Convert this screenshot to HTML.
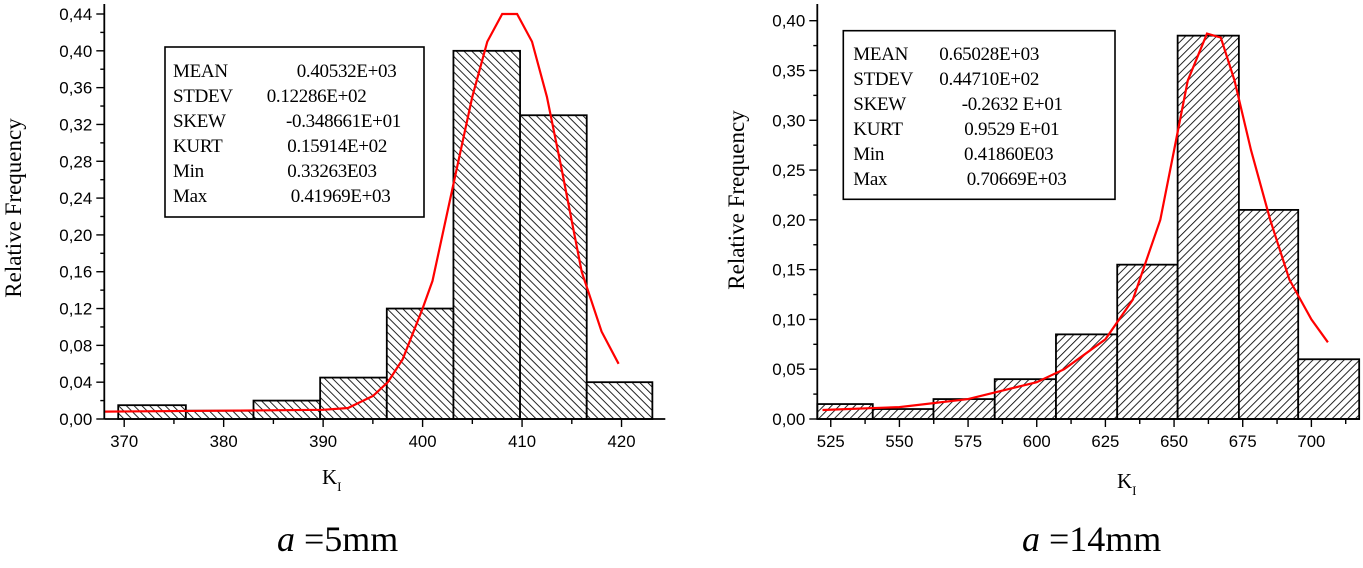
<!DOCTYPE html>
<html><head><meta charset="utf-8"><style>
body{margin:0;background:#fff;}
svg text{font-family:"Liberation Sans",sans-serif;}
.serif{font-family:"Liberation Serif",serif !important;}
</style></head><body>
<svg id="svg" width="1363" height="563" viewBox="0 0 1363 563" xmlns="http://www.w3.org/2000/svg">
<defs>
<pattern id="hatchL" patternUnits="userSpaceOnUse" width="5.5" height="5.5" patternTransform="rotate(-45)"><rect width="5.5" height="5.5" fill="#fff"/><line x1="0" y1="0" x2="0" y2="5.5" stroke="#000" stroke-width="1.7"/></pattern>
<pattern id="hatchR" patternUnits="userSpaceOnUse" width="5.5" height="5.5" patternTransform="rotate(45)"><rect width="5.5" height="5.5" fill="#fff"/><line x1="0" y1="0" x2="0" y2="5.5" stroke="#000" stroke-width="1.7"/></pattern>
</defs>
<g id="left"></g>
<g id="right"></g>
</svg>
<script>
// Left chart data (a = 5mm)
const leftBinEdges = [369.4, 376.2, 383.0, 389.7, 396.4, 403.1, 409.8, 416.5, 423.1];
const leftFreq = [0.015, 0.009, 0.02, 0.045, 0.12, 0.40, 0.33, 0.04];
const leftCurveX = [368.0, 380, 390, 392.5, 395, 396.5, 398, 400, 401, 403, 405, 406.5, 408, 409.5, 411, 412.5, 414, 416, 418, 419.7];
const leftCurveY = [0.008, 0.009, 0.010, 0.012, 0.025, 0.04, 0.065, 0.12, 0.15, 0.25, 0.35, 0.41, 0.44, 0.44, 0.41, 0.35, 0.27, 0.16, 0.095, 0.06];
const leftXTicks = [370, 380, 390, 400, 410, 420];
const leftYTicks = ["0,00","0,04","0,08","0,12","0,16","0,20","0,24","0,28","0,32","0,36","0,40","0,44"];
const leftStatsLabels = ["MEAN","STDEV","SKEW","KURT","Min","Max"];
const leftStatsValues = ["0.40532E+03","0.12286E+02","-0.348661E+01","0.15914E+02","0.33263E03","0.41969E+03"];

// Right chart data (a = 14mm)
const rightBinEdges = [520.1, 540.3, 562.4, 584.7, 607.0, 629.3, 651.3, 673.6, 695.2, 717.4];
const rightFreq = [0.015, 0.01, 0.02, 0.04, 0.085, 0.155, 0.385, 0.21, 0.06];
const rightCurveX = [522, 550, 575, 600, 610, 625, 635, 645, 650, 655, 662, 667, 672, 678, 685, 692, 700, 706];
const rightCurveY = [0.009, 0.012, 0.02, 0.037, 0.05, 0.08, 0.12, 0.2, 0.27, 0.34, 0.387, 0.383, 0.34, 0.27, 0.2, 0.14, 0.1, 0.077];
const rightXTicks = [525, 550, 575, 600, 625, 650, 675, 700];
const rightYTicks = ["0,00","0,05","0,10","0,15","0,20","0,25","0,30","0,35","0,40"];
const rightStatsLabels = ["MEAN","STDEV","SKEW","KURT","Min","Max"];
const rightStatsValues = ["0.65028E+03","0.44710E+02","-0.2632 E+01","0.9529 E+01","0.41860E03","0.70669E+03"];

const NS = "http://www.w3.org/2000/svg";
function mk(parent, tag, attrs, text){
  const e = document.createElementNS(NS, tag);
  for (const k in attrs) e.setAttribute(k, attrs[k]);
  if (text !== undefined) e.textContent = text;
  parent.appendChild(e);
  return e;
}

function drawChart(g, cfg){
  const sx = v => cfg.px0 + (v - cfg.xmin) / (cfg.xmax - cfg.xmin) * (cfg.px1 - cfg.px0);
  const sy = v => cfg.py0 - v / cfg.ymax * (cfg.py0 - cfg.py1);
  for (let i = 0; i < cfg.freq.length; i++){
    const x0 = sx(cfg.edges[i]), x1 = sx(cfg.edges[i+1]);
    const r = mk(g, "rect", {x:x0, y:sy(cfg.freq[i]), width:x1-x0, height:cfg.py0-sy(cfg.freq[i]), fill:"url(#"+cfg.pattern+")", stroke:"#000", "stroke-width":1.8});
    
    
  }
  const pts = cfg.cx.map((x,i)=>sx(x).toFixed(1)+","+sy(cfg.cy[i]).toFixed(1)).join(" ");
  const pl = mk(g, "polyline", {points:pts, fill:"none", stroke:"#f00", "stroke-width":2.2});
  
  
  const ya = mk(g, "line", {x1:cfg.px0, y1:cfg.py0, x2:cfg.px0, y2:4, stroke:"#000", "stroke-width":1.8});
  
  
  const xa = mk(g, "line", {x1:cfg.px0, y1:cfg.py0, x2:cfg.px1, y2:cfg.py0, stroke:"#000", "stroke-width":1.8});
  
  
  const ystep = cfg.ymax / (cfg.yTicks.length - 1);
  cfg.yTicks.forEach((lab,i)=>{
    const y = sy(i*ystep);
    mk(g, "line", {x1:cfg.px0-8, y1:y, x2:cfg.px0, y2:y, stroke:"#000", "stroke-width":1.4});
    if (i < cfg.yTicks.length - 1){
      const ym = sy((i+0.5)*ystep);
      mk(g, "line", {x1:cfg.px0-4, y1:ym, x2:cfg.px0, y2:ym, stroke:"#000", "stroke-width":1.4});
    }
    const t = mk(g, "text", {x:cfg.px0-12, y:y+6, "text-anchor":"end", "font-size":17, textLength:33, lengthAdjust:"spacingAndGlyphs"}, lab);
    
    
  });
  const xstep = cfg.xTicks[1] - cfg.xTicks[0];
  for (let v = cfg.xTicks[0] - xstep/2; v <= cfg.xmax; v += xstep/2){
    if (v < cfg.xmin) continue;
    const major = cfg.xTicks.some(t => Math.abs(t - v) < 1e-6);
    mk(g, "line", {x1:sx(v), y1:cfg.py0, x2:sx(v), y2:cfg.py0+(major?8:5), stroke:"#000", "stroke-width":1.4});
  }
  cfg.xTicks.forEach(v=>{
    const t = mk(g, "text", {x:sx(v), y:cfg.py0+28, "text-anchor":"middle", "font-size":17, textLength:28, lengthAdjust:"spacingAndGlyphs"}, String(v));
    
    
  });
  const yt = mk(g, "text", {x:0, y:0, "text-anchor":"middle", "font-size":23, class:"serif", transform:"translate("+cfg.ytx+","+cfg.yty+") rotate(-90)"}, "Relative Frequency");
  
  
  const xt = mk(g, "text", {x:cfg.xtx, y:cfg.xty, "font-size":21, class:"serif"});
  
  
  mk(xt, "tspan", {}, "K");
  mk(xt, "tspan", {dy:7, "font-size":13}, "I");
  const b = cfg.box;
  const br = mk(g, "rect", {x:b.x, y:b.y, width:b.w, height:b.h, fill:"#fff", stroke:"#000", "stroke-width":1.6});
  
  
  cfg.statL.forEach((lab,i)=>{
    const y = b.y0 + i*25;
    const t1 = mk(g, "text", {x:b.lx, y:y, "font-size":19, class:"serif", "letter-spacing":"-0.3"}, lab);
    
    
    const t2 = mk(g, "text", {x:b.vx[i], y:y, "font-size":19, class:"serif", "letter-spacing":"-0.3"}, cfg.statV[i]);
    
    
  });
  const cp = mk(g, "text", {x:cfg.capx, y:551, "font-size":36, class:"serif"});
  
  
  mk(cp, "tspan", {"font-style":"italic"}, "a");
  mk(cp, "tspan", {}, " =" + cfg.cap);
}

drawChart(document.getElementById("left"), {
  px0:104.3, px1:665.3, py0:419, py1:14, xmin:368.0, xmax:424.4, ymax:0.44,
  edges:leftBinEdges, freq:leftFreq, cx:leftCurveX, cy:leftCurveY, pattern:"hatchL",
  xTicks:leftXTicks, yTicks:leftYTicks, statL:leftStatsLabels, statV:leftStatsValues,
  ytx:21, yty:208, xtx:322, xty:484,
  box:{x:165, y:47, w:259, h:170, y0:77, lx:173, vx:[296.7,266.7,286,287.3,287.3,290.7]},
  cap:"5mm", capx:277
});
drawChart(document.getElementById("right"), {
  px0:817.3, px1:1360, py0:419, py1:20.7, xmin:520.1, xmax:717.7, ymax:0.40,
  edges:rightBinEdges, freq:rightFreq, cx:rightCurveX, cy:rightCurveY, pattern:"hatchR",
  xTicks:rightXTicks, yTicks:rightYTicks, statL:rightStatsLabels, statV:rightStatsValues,
  ytx:744, yty:200, xtx:1117, xty:488,
  box:{x:843.3, y:30.7, w:271.7, h:168.6, y0:60, lx:853.3, vx:[939.3,939.3,961.7,964.3,964,966.7]},
  cap:"14mm", capx:1022
});
</script>
</body></html>
